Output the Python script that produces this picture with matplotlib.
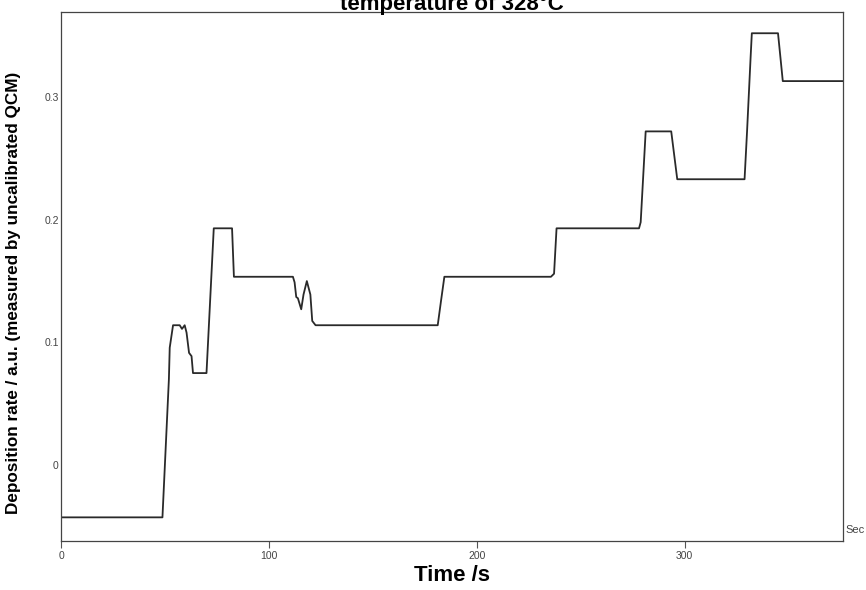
import matplotlib
matplotlib.use("Agg")
import matplotlib.pyplot as plt

# trace (time in s, rate in a.u.)
time = [0, 48.6, 51.7, 52.1, 53.7, 56.9, 58.0, 59.3, 60.2, 61.4, 62.6, 63.3,
        69.8, 73.3, 82.1, 83.0, 111.4, 112.2, 113.0, 113.8, 115.4, 116.5,
        118.1, 119.8, 120.7, 122.3, 181.1, 182.7, 184.3, 235.6, 237.1, 238.3,
        278.0, 278.8, 281.2, 293.5, 296.4, 328.8, 330.0, 331.7, 332.3, 344.9,
        346.2, 347.2, 376.0]
rate = [-0.0426, -0.0426, 0.070, 0.0957, 0.114, 0.114, 0.111, 0.114, 0.108,
        0.0915, 0.0888, 0.075, 0.075, 0.193, 0.193, 0.1535, 0.1535, 0.149,
        0.137, 0.136, 0.127, 0.139, 0.150, 0.139, 0.1175, 0.114, 0.114, 0.134,
        0.1535, 0.1535, 0.156, 0.193, 0.193, 0.198, 0.272, 0.272, 0.233, 0.233,
        0.272, 0.332, 0.352, 0.352, 0.330, 0.313, 0.313]

xticks = [0, 100, 200, 300]
yticks = [0, 0.1, 0.2, 0.3]
ytick_labels = ["0", "0.1", "0.2", "0.3"]

plt.rcParams['font.family'] = ['Liberation Sans', 'DejaVu Sans']

fig = plt.figure(figsize=(8.66, 5.90), dpi=100)
ax = fig.add_axes([0.071, 0.083, 0.902, 0.896])

ax.plot(time, rate, color='#2a2a2a', lw=1.3)

ax.set_xlim(0, 376)
ax.set_ylim(-0.0619, 0.369)
ax.set_xticks(xticks)
ax.set_xticklabels([str(t) for t in xticks])
ax.set_yticks(yticks)
ax.set_yticklabels(ytick_labels)
ax.tick_params(axis='x', length=5, width=0.8, color='#555555', pad=2,
               labelsize=7.5, labelcolor='#444444')
ax.tick_params(axis='y', length=0, pad=2, labelsize=7.5, labelcolor='#444444')
for s in ax.spines.values():
    s.set_color('#444444')
    s.set_linewidth(0.9)

ax.set_xlabel("Time /s", fontsize=16, fontweight='bold', labelpad=3)
ax.set_ylabel("Deposition rate / a.u. (measured by uncalibrated QCM)",
              fontsize=12.3, fontweight='bold', labelpad=14)
ax.yaxis.set_label_coords(-0.052, 0.47)

# title is cut off by the top edge in the reference
fig.text(0.522, 0.983, "temperature of 328\u00b0C", ha='center', va='baseline',
         fontsize=16, fontweight='bold')
fig.text(0.976, 0.102, "Sec", ha='left', va='center', fontsize=8,
         color='#444444')

fig.savefig("out.png", dpi=100)
